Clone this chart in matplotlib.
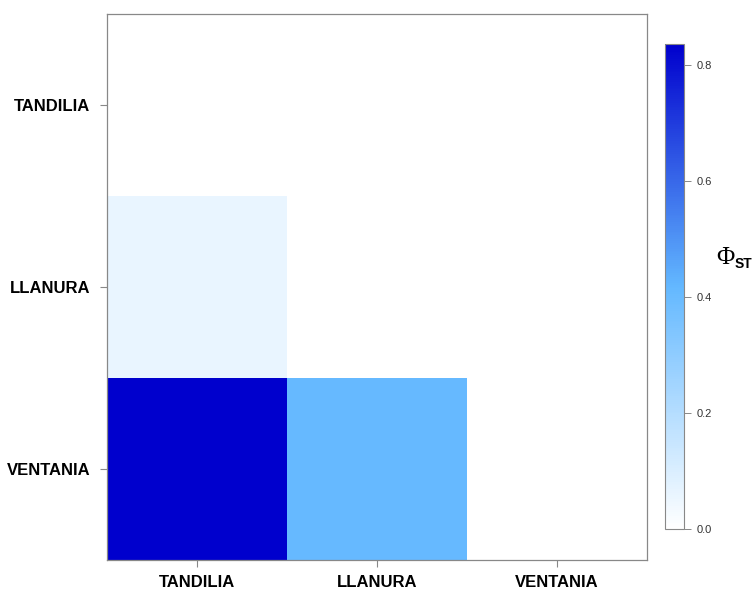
import numpy as np
import matplotlib

matplotlib.use("Agg")
import matplotlib.pyplot as plt
from matplotlib.colors import LinearSegmentedColormap, Normalize

# populations and pairwise PhiST (lower triangle only)
populations = ["TANDILIA", "LLANURA", "VENTANIA"]
phi_llanura_tandilia = 0.06
phi_ventania_tandilia = 0.836
phi_ventania_llanura = 0.41
cbar_ticks = [0.0, 0.2, 0.4, 0.6, 0.8]

n = len(populations)
matrix = np.full((n, n), np.nan)
matrix[1, 0] = phi_llanura_tandilia
matrix[2, 0] = phi_ventania_tandilia
matrix[2, 1] = phi_ventania_llanura

plt.rcParams["font.family"] = ["Liberation Sans", "DejaVu Sans"]

cmap = LinearSegmentedColormap.from_list(
    "phist", ["#FFFFFF", "#63B8FF", "#0000CD"]
)
cmap.set_bad("white")
vmax = np.nanmax(matrix)
norm = Normalize(vmin=0.0, vmax=vmax)

fig = plt.figure(figsize=(7.54, 5.92), dpi=100)
ax = fig.add_axes([107 / 754, 32 / 592, 540 / 754, 546 / 592])
mesh = ax.pcolormesh(
    np.arange(n + 1), np.arange(n + 1), np.ma.masked_invalid(matrix),
    cmap=cmap, norm=norm,
)
ax.set_xlim(0, n)
ax.set_ylim(n, 0)
ax.set_xticks(np.arange(n) + 0.5)
ax.set_yticks(np.arange(n) + 0.5)
ax.set_xticklabels(populations, fontsize=12, fontweight="bold")
ax.set_yticklabels(populations, fontsize=12, fontweight="bold")
ax.tick_params(axis="both", length=5, width=0.8, color="#888888")
ax.tick_params(axis="x", pad=6)
ax.tick_params(axis="y", pad=7)
for spine in ax.spines.values():
    spine.set_color("#888888")
    spine.set_linewidth(0.9)

cax = fig.add_axes([665 / 754, 63 / 592, 19 / 754, 485 / 592])
cb = fig.colorbar(mesh, cax=cax)
cb.set_ticks(cbar_ticks)
cb.set_ticklabels([f"{t:.1f}" for t in cbar_ticks])
cb.outline.set_edgecolor("#888888")
cb.outline.set_linewidth(0.8)
cax.tick_params(labelsize=8, length=5, width=0.7, color="#888888",
                labelcolor="#333333", pad=4)

fig.text(716 / 754, 1 - 264 / 592, "\u03a6", fontsize=18,
         family=["Liberation Serif", "DejaVu Serif"], ha="left", va="baseline")
fig.text(735 / 754, 1 - 268 / 592, "ST", fontsize=10, fontweight="bold",
         ha="left", va="baseline")

fig.savefig("out.png", dpi=100)
